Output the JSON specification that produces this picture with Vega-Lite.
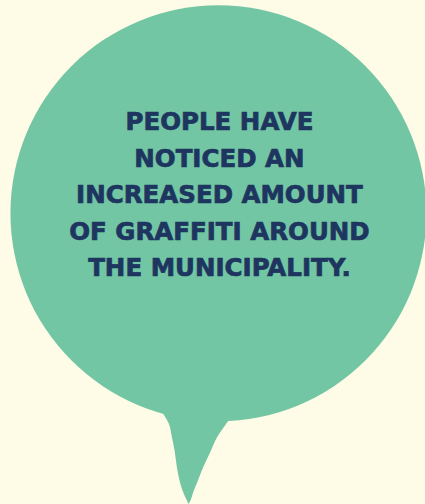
{
  "$schema": "https://vega.github.io/schema/vega-lite/v6.json",
  "autosize": {"type": "fit", "contains": "padding"},
  "width": 425,
  "height": 504,
  "padding": 0,
  "background": "#FEFBE6",
  "config": {"view": {"stroke": null}},
  "datasets": {
    "bubble": [{"cx": 220, "cy": 215}],
    "tail": [
      {"ty": 400, "left": 150, "right": 242},
      {"ty": 418, "left": 165, "right": 234},
      {"ty": 427, "left": 170, "right": 228},
      {"ty": 440, "left": 173, "right": 219},
      {"ty": 455, "left": 176, "right": 212},
      {"ty": 470, "left": 178, "right": 205},
      {"ty": 485, "left": 181, "right": 199},
      {"ty": 495, "left": 184, "right": 195},
      {"ty": 504, "left": 188, "right": 192},
      {"ty": 508, "left": 190, "right": 190}
    ],
    "lines": [
      {"line": "PEOPLE HAVE", "ly": 131.5},
      {"line": "NOTICED AN", "ly": 168},
      {"line": "INCREASED AMOUNT", "ly": 204.5},
      {"line": "OF GRAFFITI AROUND", "ly": 241.5},
      {"line": "THE MUNICIPALITY.", "ly": 278}
    ]
  },
  "layer": [
    {
      "data": {"name": "tail"},
      "mark": {"type": "area", "orient": "horizontal", "interpolate": "monotone", "color": "#72C6A3", "opacity": 1},
      "encoding": {
        "y": {"field": "ty", "type": "quantitative", "scale": {"domain": [0, 504], "reverse": true, "nice": false, "zero": false}, "axis": null},
        "x": {"field": "left", "type": "quantitative", "scale": {"domain": [0, 425], "nice": false, "zero": false}, "axis": null},
        "x2": {"field": "right"}
      }
    },
    {
      "data": {"name": "bubble"},
      "mark": {"type": "point", "shape": "circle", "filled": true, "color": "#72C6A3", "opacity": 1, "strokeWidth": 0, "clip": false},
      "encoding": {
        "x": {"field": "cx", "type": "quantitative", "scale": {"domain": [0, 425], "nice": false, "zero": false}, "axis": null},
        "y": {"field": "cy", "type": "quantitative", "scale": {"domain": [0, 504], "reverse": true, "nice": false, "zero": false}, "axis": null},
        "size": {"value": 173056}
      }
    },
    {
      "data": {"name": "lines"},
      "mark": {"type": "text", "align": "center", "baseline": "alphabetic", "font": "DejaVu Sans", "fontWeight": "bold", "fontSize": 24.5, "color": "#1E3560", "stroke": "#1E3560", "strokeWidth": 0.7},
      "encoding": {
        "x": {"datum": 221, "type": "quantitative", "scale": {"domain": [0, 425], "nice": false, "zero": false}, "axis": null},
        "y": {"field": "ly", "type": "quantitative", "scale": {"domain": [0, 504], "reverse": true, "nice": false, "zero": false}, "axis": null},
        "text": {"field": "line"}
      }
    }
  ]
}
